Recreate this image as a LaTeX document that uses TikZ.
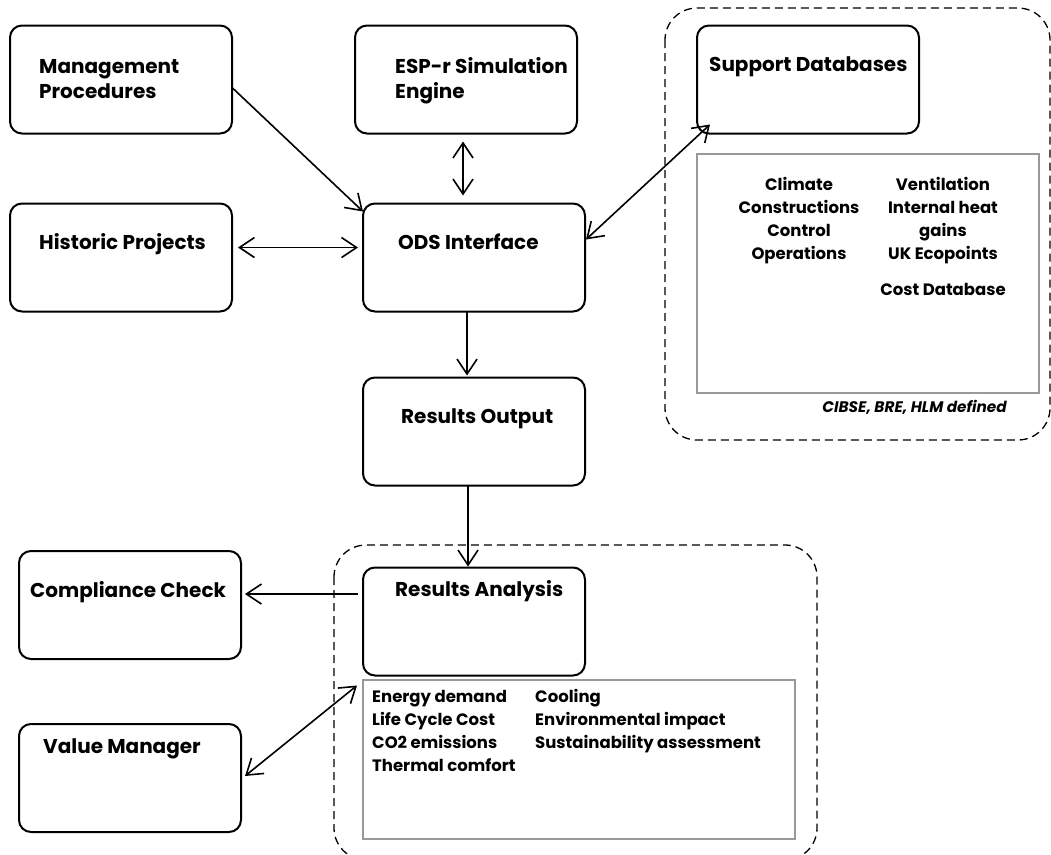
\documentclass[tikz,border=0pt]{standalone}
\usepackage{fontspec}
\setmainfont{Poppins}
\usetikzlibrary{positioning,arrows.meta}
\tikzset{
  box/.style={draw, line width=2pt, outer sep=0pt, rounded corners=12pt, minimum width=222pt, minimum height=108pt},
  title/.style={font=\fontsize{20}{25}\selectfont\bfseries, align=left, inner sep=0pt, anchor=base west},
  item/.style={font=\fontsize{16.5}{23}\selectfont\bfseries, inner sep=0pt},
  dbbox/.style={draw=black!40, line width=2pt, outer sep=0pt},
  group/.style={draw, line width=1.3pt, rounded corners=32pt, dash pattern=on 8pt off 5pt},
  line/.style={line width=1.6pt, -{Straight Barb[length=15pt,width=20pt]}},
  both/.style={line width=1.6pt, {Straight Barb[length=15pt,width=20pt]}-{Straight Barb[length=15pt,width=20pt]}}
}
\begin{document}
\begin{tikzpicture}[x=1pt, y=-1pt]
    \useasboundingbox (0,0) rectangle (1051,854);
    \clip (0,0) rectangle (1051,854);

    % dashed groups
    \draw[group] (665,8) rectangle (1050,440);
    \draw[group] (334,545) rectangle (817,860);

    % main boxes
    \node[box]                       (mgmt)   at (121,79.5) {};
    \node[box,below=70pt of mgmt]    (hist)   {};
    \node[box,right=123pt of mgmt]   (esp)    {};
    \node[box,right=131pt of hist]   (ods)    {};
    \node[box,below=66pt of ods]     (resout) {};
    \node[box,below=82pt of resout]  (resan)  {};
    \node[box]                       (comp)   at (130,605) {};
    \node[box,below=65pt of comp]    (value)  {};
    \node[box,right=120pt of esp]    (supp)   {};

    \node[dbbox, minimum width=342pt, minimum height=239pt, below=20pt of supp.south west, anchor=north west] (suppdb) {};
    \node[dbbox, minimum width=432pt, minimum height=159pt, below=4pt of resan.south west, anchor=north west] (resdb) {};

    % box titles
    \node[title] (mgmtT)   at ([shift={(29pt,-73pt)}]mgmt.north west)   {Management\\Procedures};
    \node[title] (histT)   at ([shift={(29pt,-46pt)}]hist.north west)   {Historic Projects};
    \node[title] (espT)    at ([shift={(40pt,-73pt)}]esp.north west)    {ESP-r Simulation\\Engine};
    \node[title] (odsT)    at ([shift={(35pt,-46pt)}]ods.north west)    {ODS Interface};
    \node[title] (resoutT) at ([shift={(38pt,-46pt)}]resout.north west) {Results Output};
    \node[title] (resanT)  at ([shift={(32pt,-29pt)}]resan.north west)  {Results Analysis};
    \node[title] (compT)   at ([shift={(11pt,-46pt)}]comp.north west)   {Compliance Check};
    \node[title] (valueT)  at ([shift={(24pt,-29pt)}]value.north west)  {Value Manager};
    \node[title] (suppT)   at ([shift={(12pt,-46pt)}]supp.north west)   {Support Databases};

    % database contents
    \node[item, align=center, anchor=base] (dbleft)  at ([shift={(102pt,-106pt)}]suppdb.north west)
        {Climate\\Constructions\\Control\\Operations};
    \node[item, align=center, anchor=base] (dbright) at ([shift={(246pt,-142pt)}]suppdb.north west)
        {Ventilation\\Internal heat\\gains\\UK Ecopoints\\[13pt]Cost Database};
    \node[item, font=\fontsize{15.3}{20}\selectfont\bfseries\itshape, anchor=base east] (dbnote)
        at ([shift={(-32pt,-20pt)}]suppdb.south east) {CIBSE, BRE, HLM defined};

    % analysis contents
    \node[item, align=left, anchor=base west] (anleft)  at ([shift={(9pt,-92pt)}]resdb.north west)
        {Energy demand\\Life Cycle Cost\\CO2 emissions\\Thermal comfort};
    \node[item, align=left, anchor=base west] (anright) at ([shift={(172pt,-69pt)}]resdb.north west)
        {Cooling\\Environmental impact\\Sustainability assessment};

    % connectors
    \draw[line] ([yshift=-8pt]mgmt.east) -- ([yshift=-8pt]ods.north west);
    \draw[both] ([shift={(6pt,10pt)}]hist.east) -- ([shift={(-5pt,10pt)}]ods.west);
    \draw[both] ([shift={(-3pt,-8pt)}]esp.south) -- ([shift={(-3pt,8pt)}]esp.south |- ods.north);
    \draw[both] ([shift={(13pt,9pt)}]supp.south west) -- ([shift={(1pt,18pt)}]ods.east);
    \draw[line] ([xshift=-7pt]ods.south) -- ([xshift=-7pt,yshift=2pt]ods.south |- resout.north);
    \draw[line] ([xshift=-6pt]resout.south) -- ([xshift=-6pt,yshift=1pt]resout.south |- resan.north);
    \draw[line] ([shift={(-5pt,11pt)}]comp.east -| resan.west) -- ([shift={(4pt,11pt)}]comp.east);
    \draw[both] ([shift={(4pt,2pt)}]value.east) -- ([shift={(-6pt,-6pt)}]resdb.north west);
\end{tikzpicture}
\end{document}
